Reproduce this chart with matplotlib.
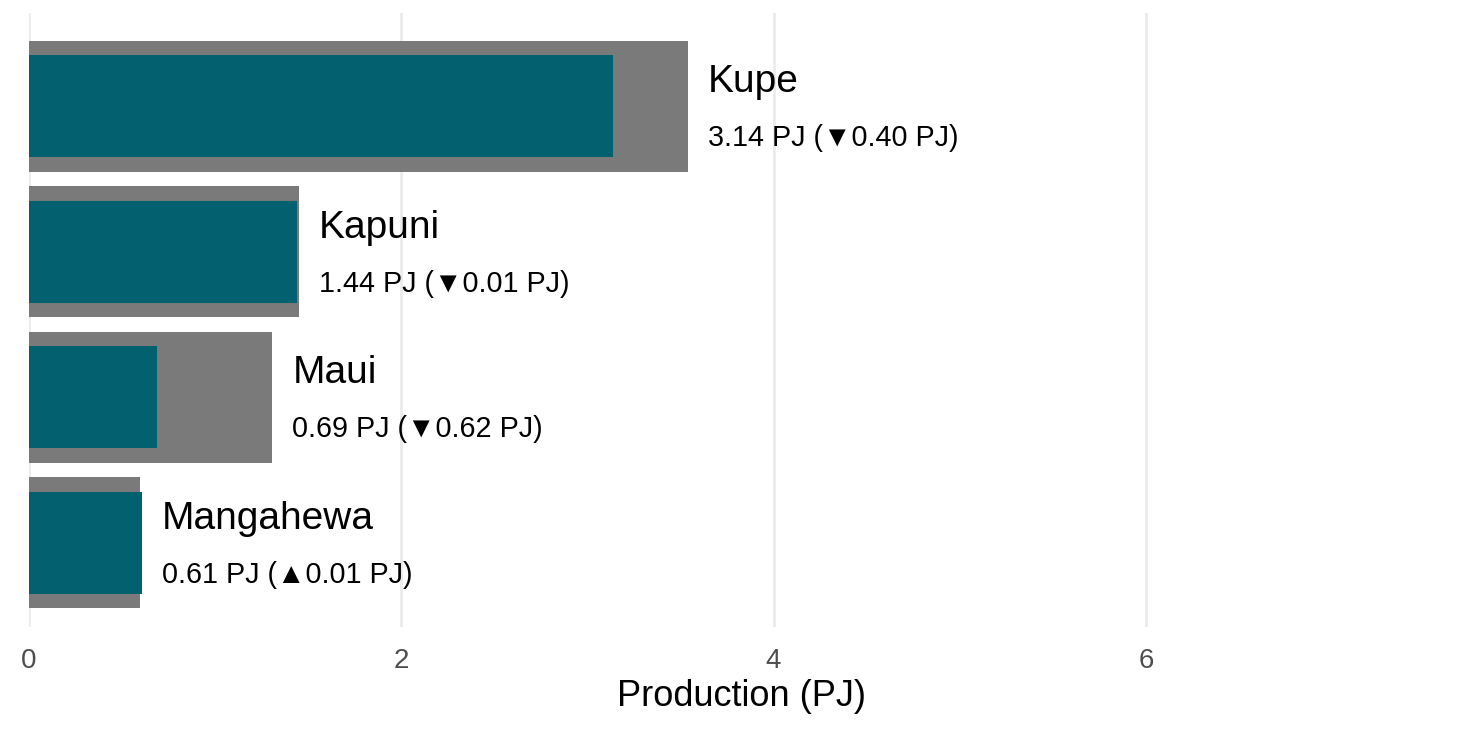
import matplotlib
matplotlib.use("Agg")
import matplotlib.pyplot as plt
import matplotlib.transforms as mtransforms

fields = ["Kupe", "Kapuni", "Maui", "Mangahewa"]
current = [3.14, 1.44, 0.69, 0.61]
previous = [3.54, 1.45, 1.31, 0.60]
xticks = [0, 2, 4, 6]

TEAL = "#03606F"
GREY = "#7A7A7A"
FONTS = ["Liberation Sans", "DejaVu Sans"]
plt.rcParams["font.family"] = FONTS

W, H = 1471, 736
fig = plt.figure(figsize=(W / 100, H / 100), dpi=100)
left_px, right_px, top_px, bot_px = 28.5, 1454, 13, 627
ax = fig.add_axes([left_px / W, (H - bot_px) / H, (right_px - left_px) / W, (bot_px - top_px) / H])

y = list(range(len(fields)))
ax.barh(y, previous, height=0.9, color=GREY, zorder=2)
ax.barh(y, current, height=0.7, color=TEAL, zorder=3)

for i, (name, cur, prev) in enumerate(zip(fields, current, previous)):
    diff = cur - prev
    arrow = "\u25B2" if diff > 0 else "\u25BC"
    label = f"{cur:.2f} PJ ({arrow}{abs(diff):.2f} PJ)"
    xend = max(cur, prev)
    ax.annotate(name, xy=(xend, i), xytext=(20, 14), textcoords="offset pixels",
                ha="left", va="baseline", fontsize=28, color="black", zorder=4)
    ax.annotate(label, xy=(xend, i), xytext=(20, -40), textcoords="offset pixels",
                ha="left", va="baseline", fontsize=20.7, color="black", zorder=4)

ax.set_xlim(0, (right_px - left_px) / 186.25)
ax.set_ylim(len(fields) - 1 + 0.58, -0.64)
ax.set_xticks(xticks)
ax.set_xticklabels([str(t) for t in xticks])
ax.set_yticks([])
ax.tick_params(axis="x", length=0, pad=15, labelsize=20, labelcolor="#4D4D4D")
ax.grid(axis="x", color="#EBEBEB", linewidth=2, zorder=0)
ax.set_axisbelow(True)
for s in ax.spines.values():
    s.set_visible(False)

trans = mtransforms.blended_transform_factory(ax.transAxes, fig.transFigure)
fig.text(0.5, (H - 706) / H, "Production (PJ)", transform=trans, ha="center", va="baseline",
         fontsize=26, color="black")

fig.savefig("out.png", dpi=100)
